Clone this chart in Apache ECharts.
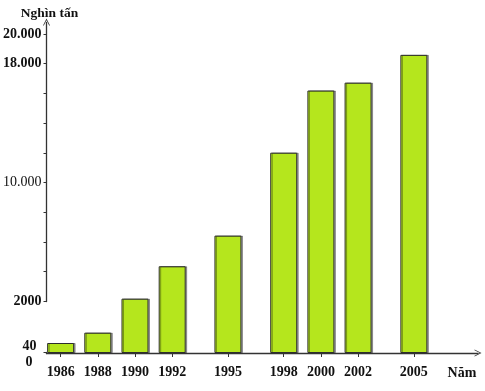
<!DOCTYPE html>
<html><head><meta charset="utf-8">
<script src="https://cdn.jsdelivr.net/npm/echarts@6/dist/echarts.min.js"></script>
<style>html,body{margin:0;padding:0;background:#fff}#c{width:485px;height:391px}</style>
</head><body><div id="c"></div>
<script>
const years = [1986, 1988, 1990, 1992, 1995, 1998, 2000, 2002, 2005];
const output = [40, 800, 2190, 4370, 6430, 12010, 16190, 16720, 18590];
const yLabelValues = [0, 40, 2000, 10000, 18000, 20000];
const yLabelTexts = ['0', '40', '2000', '10.000', '18.000', '20.000'];
const yTickValues = [40, 2000, 4000, 6000, 8000, 10000, 12000, 14000, 16000, 18000, 20000];
const yBreakStart = 40, yBreakEnd = 2000;
const yAxisTitle = 'Nghìn tấn';
const xAxisTitle = 'Năm';

const FONT = 'Liberation Serif';
const ARROW = 'path://M0,10 L5,0 L10,10 L8.8,10 L5,2.4 L1.2,10 Z';
const txt = {fontFamily: FONT, fontSize: 14, fontWeight: 'bold', color: '#111'};

const chart = echarts.init(document.getElementById('c'), null, {renderer: 'canvas'});
chart.setOption({
  animation: false,
  backgroundColor: '#fff',
  grid: {left: 43, right: 7, top: 22, bottom: 38},
  xAxis: {
    type: 'value', min: 1985.24, max: 2008.45,
    splitLine: {show: false},
    axisLine: {show: true, lineStyle: {color: '#333', width: 1.3}, symbol: ['none', ARROW], symbolSize: [11, 7]},
    axisTick: {show: true, customValues: years, length: 4, lineStyle: {color: '#333'}},
    axisLabel: {customValues: years, margin: 12, formatter: v => String(v), ...txt},
    name: xAxisTitle, nameLocation: 'end', nameGap: -16,
    nameTextStyle: {...txt, align: 'center', verticalAlign: 'top', padding: [13, 0, 0, 0]}
  },
  yAxis: {
    type: 'value', min: 0, max: 20800,
    breaks: [{start: yBreakStart, end: yBreakEnd, gap: 3426}],
    breakArea: {show: false},
    splitLine: {show: false},
    axisLine: {show: true, lineStyle: {color: '#333', width: 1.3}, symbol: ['none', ARROW], symbolSize: [14, 7]},
    axisTick: {show: true, customValues: yTickValues, length: 3, lineStyle: {color: '#333'}},
    axisLabel: {
      customValues: yLabelValues, margin: 5, ...txt,
      formatter: function (v) {
        const i = yLabelValues.indexOf(v);
        const t = i >= 0 ? yLabelTexts[i] : '';
        if (v === 0) return '{z|' + t + '}';
        if (v === 40) return '{f|' + t + '}';
        if (v === 10000) return '{r|' + t + '}';
        return t;
      },
      rich: {
        z: {...txt, padding: [18, 9, 0, 0]},
        f: {...txt, padding: [0, 5, 13, 0]},
        r: {...txt, fontWeight: 'normal'}
      }
    },
    name: yAxisTitle, nameLocation: 'end', nameGap: 1,
    nameTextStyle: {...txt, fontSize: 13.5, padding: [0, 0, 0, 6]}
  },
  series: [{
    type: 'bar',
    data: years.map((y, i) => [y, output[i]]),
    barWidth: 27,
    barMinHeight: 10,
    itemStyle: {color: '#b5e61d', borderColor: '#2e2e2e', borderWidth: 1,
      shadowColor: 'rgba(0,0,0,0.35)', shadowOffsetX: 1.5, shadowOffsetY: 0, shadowBlur: 0}
  }]
});
</script></body></html>
